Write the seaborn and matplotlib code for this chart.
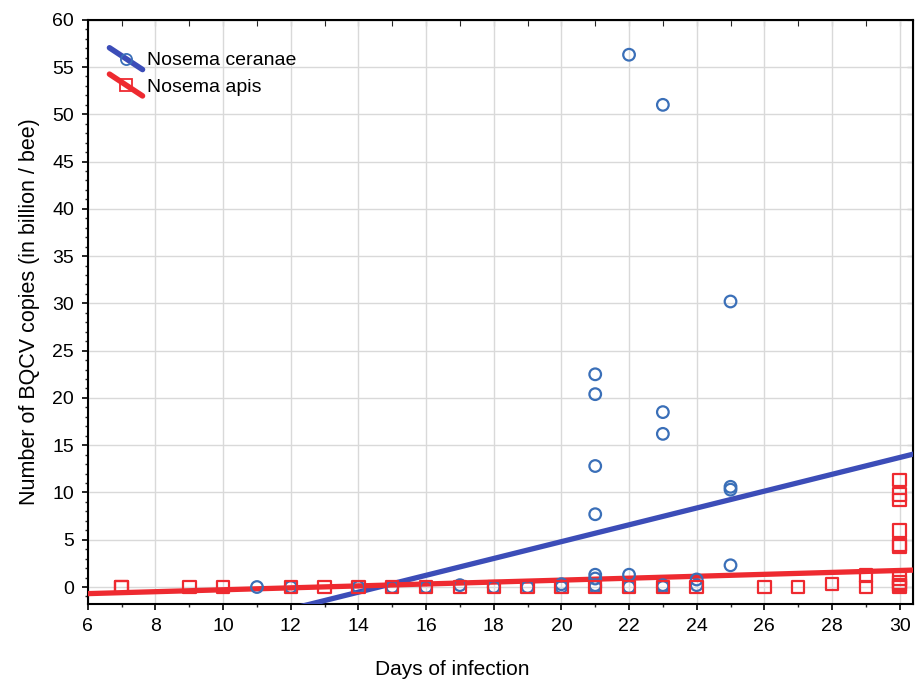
import numpy as np
import pandas as pd
import seaborn as sns
import matplotlib.pyplot as plt
from matplotlib.lines import Line2D
from matplotlib.legend_handler import HandlerLine2D
from matplotlib.ticker import MultipleLocator

# Nosema ceranae (blue circles)
ceranae_days = [11, 12, 14, 15, 16, 17, 18, 19, 20, 20,
                21, 21, 21, 21, 21, 21, 21, 21,
                22, 22, 22,
                23, 23, 23, 23, 23,
                24, 24,
                25, 25, 25, 25]
ceranae_copies = [0.0, 0.0, 0.0, 0.0, 0.0, 0.2, 0.0, 0.0, 0.3, 0.0,
                  22.5, 20.4, 12.8, 7.7, 1.3, 0.9, 0.2, 0.0,
                  56.3, 1.3, 0.0,
                  51.0, 18.5, 16.2, 0.2, 0.0,
                  0.8, 0.2,
                  30.2, 10.6, 10.3, 2.3]

# Nosema apis (red squares)
apis_days = [7, 7, 9, 10, 12, 13, 14, 15, 16, 17, 18, 19, 20, 21, 22, 23, 24,
             26, 27, 28, 29, 29,
             30, 30, 30, 30, 30, 30, 30, 30, 30, 30]
apis_copies = [0.0, 0.0, 0.0, 0.0, 0.0, 0.0, 0.0, 0.0, 0.0, 0.0, 0.0, 0.0, 0.0, 0.0, 0.0, 0.0, 0.0,
               0.0, 0.0, 0.3, 1.2, 0.0,
               11.3, 9.8, 9.2, 6.0, 4.5, 4.3, 0.9, 0.5, 0.2, 0.0]

# linear fits (slope, intercept)
fit_ceranae = (0.89, -13.0)
fit_apis = (0.102, -1.31)

col_ceranae = '#3a6fb8'
line_ceranae = '#3c4db8'
col_apis = '#ee2a30'

sns.set_style('ticks')
plt.rcParams['font.family'] = ['Liberation Sans', 'DejaVu Sans']
plt.rcParams['text.color'] = 'black'
plt.rcParams['axes.labelcolor'] = 'black'

fig, ax = plt.subplots(figsize=(9.15, 6.81), dpi=100)
fig.subplots_adjust(left=0.096, right=0.998, bottom=0.113, top=0.971)

xs = np.array([5.0, 32.0])
sns.lineplot(x=xs, y=fit_ceranae[0] * xs + fit_ceranae[1], color=line_ceranae, lw=3.8, ax=ax, zorder=3)
sns.lineplot(x=xs, y=fit_apis[0] * xs + fit_apis[1], color=col_apis, lw=3.8, ax=ax, zorder=3)

sns.scatterplot(x=ceranae_days, y=ceranae_copies, marker='o', s=70, facecolor='none',
                edgecolor=col_ceranae, linewidth=1.6, ax=ax, zorder=4)
sns.scatterplot(x=apis_days, y=apis_copies, marker='s', s=80, facecolor='none',
                edgecolor=col_apis, linewidth=1.6, ax=ax, zorder=5)

ax.set_xlim(6, 30.4)
ax.set_ylim(-1.8, 60)
ax.xaxis.set_major_locator(MultipleLocator(2))
ax.xaxis.set_minor_locator(MultipleLocator(1))
ax.yaxis.set_major_locator(MultipleLocator(5))
ax.yaxis.set_minor_locator(MultipleLocator(1))
ax.grid(True, which='major', color='#d9d9d9', lw=1)
ax.tick_params(which='major', length=4, width=1.2, labelsize=14, colors='black', pad=6)
ax.tick_params(which='minor', length=2.5, width=1)
for s in ax.spines.values():
    s.set_visible(True)
    s.set_linewidth(1.5)
    s.set_color('black')

top = ax.secondary_xaxis('top')
top.xaxis.set_major_locator(MultipleLocator(1))
top.tick_params(direction='in', length=4, labeltop=False)
right = ax.secondary_yaxis('right')
right.yaxis.set_major_locator(MultipleLocator(5))
right.tick_params(direction='in', length=4, labelright=False)

ax.set_xlabel('Days of infection', fontsize=15, labelpad=18, x=0.442)
ax.set_ylabel('Number of BQCV copies (in billion / bee)', fontsize=15.5, labelpad=9)


class DiagHandler(HandlerLine2D):
    def create_artists(self, legend, orig_handle, xdescent, ydescent, width, height, fontsize, trans):
        x0, x1 = -xdescent, -xdescent + width
        y0, y1 = -ydescent - height * 0.3, -ydescent + height * 1.3
        line = Line2D([x0, x1], [y1, y0], color=orig_handle.get_color(), lw=orig_handle.get_linewidth())
        mark = Line2D([(x0 + x1) / 2], [(y0 + y1) / 2], marker=orig_handle.get_marker(),
                      markersize=orig_handle.get_markersize(), markerfacecolor='none',
                      markeredgecolor=orig_handle.get_markeredgecolor(), markeredgewidth=1.3, lw=0)
        line.set_transform(trans)
        mark.set_transform(trans)
        return [line, mark]


handles = [Line2D([], [], color=line_ceranae, lw=4, marker='o', markersize=8,
                  markeredgecolor=col_ceranae),
           Line2D([], [], color=col_apis, lw=4, marker='s', markersize=8,
                  markeredgecolor=col_apis)]
ax.legend(handles, ['Nosema ceranae', 'Nosema apis'], handler_map={Line2D: DiagHandler()},
          loc='upper left', bbox_to_anchor=(0.005, 0.975), frameon=False, fontsize=14,
          handlelength=1.7, handletextpad=0.25, labelspacing=0.45)

fig.savefig('out.png', dpi=100)
